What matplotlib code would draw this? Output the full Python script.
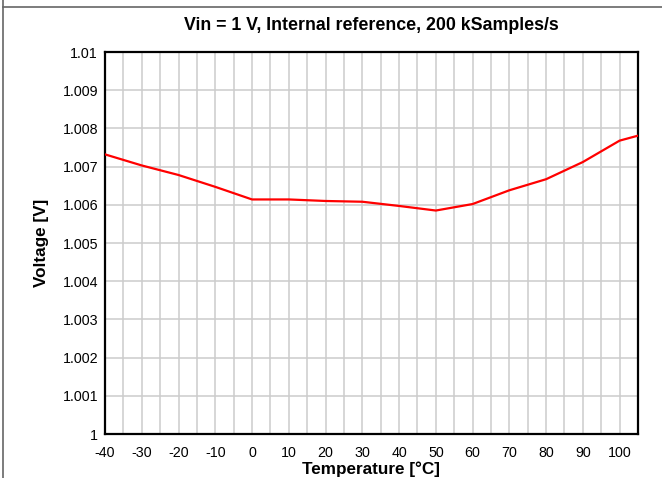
import matplotlib
matplotlib.use("Agg")
import matplotlib.pyplot as plt
import numpy as np
from matplotlib.lines import Line2D

plt.rcParams["font.family"] = ["Liberation Sans", "DejaVu Sans"]

temps = [-40, -30, -20, -10, 0, 10, 20, 30, 40, 50, 60, 70, 80, 90, 100, 105]
voltage = [1.00732, 1.00703, 1.00678, 1.00647, 1.00614, 1.00614, 1.00610, 1.00608,
           1.00597, 1.00585, 1.00602, 1.00638, 1.00667, 1.00712, 1.00768, 1.00781]

x_ticks = list(range(-40, 101, 10))
y_ticks = [1.0, 1.001, 1.002, 1.003, 1.004, 1.005, 1.006, 1.007, 1.008, 1.009, 1.01]
y_labels = ["1", "1.001", "1.002", "1.003", "1.004", "1.005", "1.006", "1.007",
            "1.008", "1.009", "1.01"]

fig = plt.figure(figsize=(6.62, 4.78), dpi=100)
fig.patch.set_facecolor("white")
ax = fig.add_axes([105 / 662, 1 - 434 / 478, 533 / 662, 382 / 478])

# grid: every 5 degC vertically, every 0.001 horizontally
for t in np.arange(-35, 105, 5):
    ax.axvline(t, color="#cccccc", linewidth=1.1, zorder=1)
for v in y_ticks[1:-1]:
    ax.axhline(v, color="#cccccc", linewidth=1.1, zorder=1)

ax.plot(temps, voltage, color="#ff0000", linewidth=1.6, zorder=3)

ax.set_xlim(-40, 105)
ax.set_ylim(1.0, 1.01)
ax.set_xticks(x_ticks)
ax.set_xticklabels([str(t) for t in x_ticks], fontsize=10.3)
ax.set_yticks(y_ticks)
ax.set_yticklabels(y_labels, fontsize=10.3)
ax.tick_params(axis="x", length=0, pad=8.5)
ax.tick_params(axis="y", length=0, pad=5)
for s in ax.spines.values():
    s.set_linewidth(1.6)
    s.set_color("black")

ax.set_xlabel("Temperature [°C]", fontsize=12.3, fontweight="bold", labelpad=1.5)
ax.set_ylabel("Voltage [V]", fontsize=12.3, fontweight="bold", labelpad=10)
ax.set_title("Vin = 1 V, Internal reference, 200 kSamples/s",
             fontsize=12.8, fontweight="bold", pad=15.5)

# outer frame fragments
fig.add_artist(Line2D([3 / 662, 1], [1 - 7 / 478, 1 - 7 / 478],
                      transform=fig.transFigure, color="#666666", linewidth=1.2))
fig.add_artist(Line2D([3 / 662, 3 / 662], [0, 1],
                      transform=fig.transFigure, color="#666666", linewidth=1.2))

fig.savefig("out.png", dpi=100, facecolor="white")
plt.close()
